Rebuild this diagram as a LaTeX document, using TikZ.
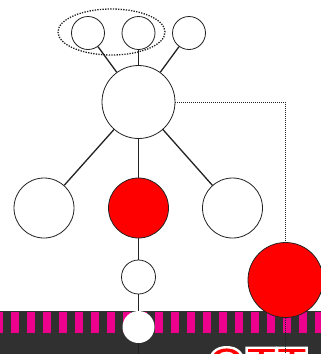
\documentclass[tikz,border=0pt]{standalone}
\usepackage{fontspec}
\setmainfont{Liberation Sans}
\usetikzlibrary{shapes.geometric}
\definecolor{band}{HTML}{303030}
\definecolor{stripe}{HTML}{EC008C}
\definecolor{redfill}{HTML}{FF0000}
\definecolor{edge}{HTML}{222222}
\newcommand{\outlinedtext}[1]{\special{pdf:literal direct 2 Tr 2.4 w 1 1 1 RG 1 0 0 rg}#1\special{pdf:literal direct 0 Tr}}
\begin{document}
\begin{tikzpicture}[x=1pt,y=-1pt,
  wc/.style={circle,draw=edge,line width=0.8pt,fill=white,inner sep=0pt},
  rc/.style={circle,draw=edge,line width=0.8pt,fill=redfill,inner sep=0pt},
  link/.style={draw=edge,line width=1.3pt},
  dotline/.style={draw=edge,line width=1pt,dash pattern=on 1pt off 1pt},
  bigtxt/.style={anchor=north west,inner sep=0pt,font=\bfseries\fontsize{50}{50}\selectfont}]
\useasboundingbox (0,0) rectangle (321,354);
\begin{scope}
\clip (0,0) rectangle (321,354);
% band
\fill[band] (0,311) rectangle (321,354);
\foreach \i in {-1,...,20} {
  \fill[stripe] ({11+16*\i},312) rectangle ({19+16*\i},333);
}
% bottom text with white outline
\node[bigtxt,text=redfill] (txt) at (207,347) {\outlinedtext{OTT}};
\end{scope}
% nodes
\node[wc,minimum size=33pt] (t1) at (88,33) {};
\node[wc,minimum size=33pt] (t2) at (138.5,33) {};
\node[wc,minimum size=33pt] (t3) at (189,33) {};
\node[draw=edge,ellipse,line width=1.3pt,dash pattern=on 1.3pt off 1.3pt,minimum width=107pt,minimum height=46pt,inner sep=0pt] (grp) at (111.5,32) {};
\node[wc,minimum size=73pt] (hub) at (138.5,102) {};
\node[wc,minimum size=60pt] (l) at (44,208) {};
\node[rc,minimum size=60pt] (m) at (138.5,208) {};
\node[wc,minimum size=60pt] (r) at (232.5,208) {};
\node[wc,minimum size=34pt] (s) at (138.5,277) {};
\node[wc,draw=none,minimum size=32pt] (b) at (138.5,327) {};
\coordinate (corner) at (285.5,102);
\coordinate (bend) at (285.5,354);
\coordinate (bot) at (138.5,354);
% connectors
\draw[link] (hub) -- (t1);
\draw[link] (hub) -- (t2);
\draw[link] (hub) -- (t3);
\draw[link] (hub) -- (l);
\draw[link] (hub) -- (m);
\draw[link] (hub) -- (r);
\draw[link] (m) -- (s);
\draw[link] (s) -- (b);
\draw[link] (b) -- (bot);
\draw[dotline] (hub.east) -- (corner) -- (bend);
\begin{scope}
\clip (0,0) rectangle (321,354);
\node[rc,minimum size=75pt] (red2) at (285.5,280) {};
\draw[dotline] (red2.south) -- (bend);
\end{scope}
\end{tikzpicture}
\end{document}
